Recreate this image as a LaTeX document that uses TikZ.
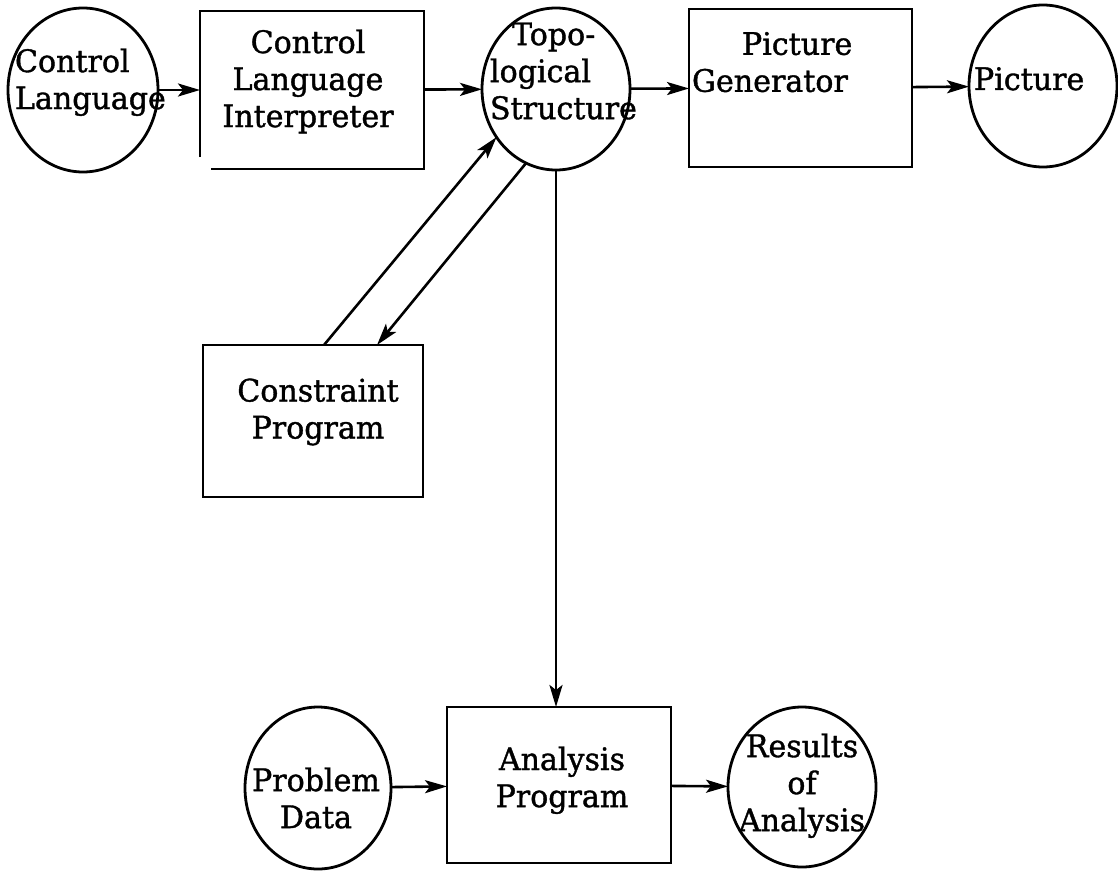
\documentclass[tikz,border=0pt]{standalone}
\usepackage{fontspec}
\setmainfont{DejaVu Serif}[FakeBold=1.2,FakeStretch=0.97]
\usetikzlibrary{shapes.geometric,arrows.meta,calc}
\begin{document}
\begin{tikzpicture}[x=1pt,y=-1pt,
  line width=2.8pt,
  every node/.style={inner sep=0pt, outer sep=0pt},
  blob/.style={draw, ellipse},
  proc/.style={draw, rectangle},
  txt/.style={font=\fontsize{31}{37}\selectfont},
  lbl/.style={txt, align=center, anchor=north},
  flow/.style={-{Stealth[length=22pt,width=13pt,inset=5pt]}, line width=2.6pt},
]
\useasboundingbox (0,0) rectangle (1118,872);

% data stores (ellipses) and programs (boxes)
\node[blob, minimum width=150, minimum height=164] (cl) at (83,90) {};
\node[rectangle, minimum width=224, minimum height=158] (cli) at (312,90) {};
\node[blob, minimum width=148, minimum height=162] (topo) at (556,89) {};
\node[proc, minimum width=223, minimum height=158] (pg) at (800.5,88) {};
\node[blob, minimum width=148, minimum height=162] (pic) at (1043,86) {};
\node[proc, minimum width=220, minimum height=152] (cp) at (313,421) {};
\node[proc, minimum width=224, minimum height=156] (ap) at (559,785) {};
\node[blob, minimum width=146, minimum height=162] (pd) at (318,788) {};
\node[blob, minimum width=148, minimum height=160] (ra) at (802,787) {};

% interpreter box, its lower left corner left open
\draw (cli.south west) ++(0,-12) -- (cli.north west) -- (cli.north east)
  -- (cli.south east) -- ($(cli.south west)+(11,0)$);

% labels
\node[lbl, anchor=north west, align=left] (cl-t) at (15,48.5) {Control\\Language};
\node[lbl] (cli-t) at (308,29.5) {Control\\Language\\Interpreter};
\node[lbl, anchor=north west, align=left] (topo-t) at (490,22.5) {\hspace*{22pt}Topo-\\logical\\Structure};
\node[lbl, anchor=north west, align=left] (pg-t) at (692,32) {\hspace*{50pt}Picture\\Generator};
\node[txt, anchor=base west] (pic-t) at (974,90) {Picture};
\node[lbl] (cp-t) at (318,378.5) {Constraint\\Program};
\node[lbl] (ap-t) at (562,746.5) {Analysis\\Program};
\node[lbl] (pd-t) at (316,767.5) {Problem\\Data};
\node[lbl] (ra-t) at (802,733.5) {Results\\of\\Analysis};

% flows
\draw[flow] (cl) -- (cli);
\draw[flow] (cli) -- (topo);
\draw[flow] (topo) -- (pg);
\draw[flow] (pg) -- (pic);
\draw[flow] ($(cp.north west)+(121,0)$) -- (topo.219);
\draw[flow] (topo.248) -- ($(cp.north west)+(174,0)$);
\draw[flow] (topo.south) -- (topo.south |- ap.north);
\draw[flow] (pd) -- (ap);
\draw[flow] (ap) -- (ra);
\end{tikzpicture}
\end{document}
